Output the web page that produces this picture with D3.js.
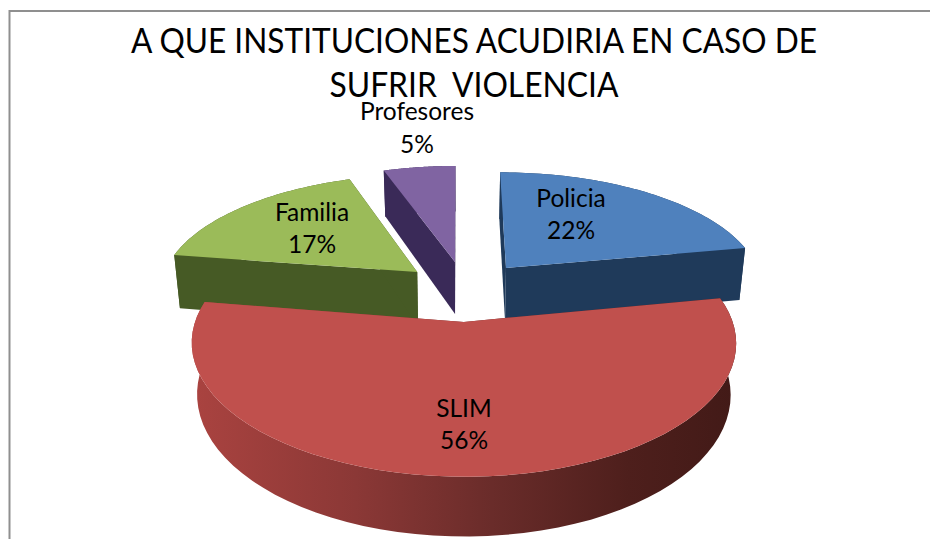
<!DOCTYPE html>
<html><head><meta charset="utf-8">
<script src="https://cdn.jsdelivr.net/npm/d3@7"></script>
<style>html,body{margin:0;background:#fff}svg{display:block}text{font-family:Lato,"Open Sans",sans-serif;fill:#000;white-space:pre}</style>
</head><body><svg id="c" width="930" height="539"></svg>
<script>
const categories = ["Policia","SLIM","Familia","Profesores"];
const values = [22,55.5,17.2,5.3];
const titleLines = ["A QUE INSTITUCIONES ACUDIRIA EN CASO DE","SUFRIR  VIOLENCIA"];

const W=930,H=539,cx=459,R=278,horizon=-500,ground=850,f=1695,Y0=125;
const offsets=[[52,56],[5,-67],[-46,46],[-4.5,71]];
const ryScale=[.96,1,.97,.98];
const depths=[59,52,60,58];
const topCol=["#4f81bd","#c0504d","#9bbb59","#8064a2"];
const wallCol=["#1f3a5a","url(#redWall)","#465a25","#3a2a58"];
const labelPos=[[571,207,239],[464,417,449],[312,221,253],[417,120,153]];
const titleLen=[686,289];

const svg=d3.select("#c");
const defs=svg.append("defs");
const g=defs.append("linearGradient").attr("id","redWall").attr("gradientUnits","userSpaceOnUse")
  .attr("x1",192).attr("x2",737).attr("y1",0).attr("y2",0);
[[0,"#aa4340"],[.3,"#8b3836"],[.55,"#6a2c2a"],[.8,"#4e1f1c"],[1,"#421a17"]].forEach(d=>g.append("stop").attr("offset",d[0]).attr("stop-color",d[1]));

svg.append("path").attr("d",d3.line()([[9.5,545],[9.5,11],[935,11]])).attr("fill","none").attr("stroke","#8f8f8f").attr("stroke-width",2);

const project=(a,r,off,z,i)=>{
  const X=r*Math.sin(a)+off[0],Y=r*Math.cos(a)*ryScale[i]+off[1]+Y0;
  const s=1/(1+Y/f);
  return [cx+X*s*(1-0.02*z),horizon+(ground+depths[i]*z)*s];
};
const line=d3.line();
const arcs=d3.pie().sort(null).startAngle(0).endAngle(2*Math.PI)(values);
const angles=(a0,a1)=>d3.range(0,61).map(i=>a0+(a1-a0)*i/60);

const order=[3,2,0,1];
order.forEach(i=>{
  const d=arcs[i],o=offsets[i],p=svg.append("g");
  const as=angles(d.startAngle,d.endAngle);
  const apex0=project(0,0,o,0,i),apex1=project(0,0,o,1,i);
  const rim0=as.map(a=>project(a,R,o,0,i)),rim1=as.map(a=>project(a,R,o,1,i));
  p.append("path").attr("d",line(rim0.concat(rim1.slice().reverse()))+"Z").attr("fill",wallCol[i]);
  [rim0[0],rim0[60]].forEach((q,k)=>{
    const q1=k?rim1[60]:rim1[0];
    p.append("path").attr("d",line([apex0,q,q1,apex1])+"Z").attr("fill",wallCol[i]);
  });
  p.append("path").attr("d",line([apex0].concat(rim0))+"Z").attr("fill",topCol[i]);
});

titleLines.forEach((t,i)=>svg.append("text").attr("x",474).attr("y",[52.5,97][i]).attr("text-anchor","middle").attr("font-size",34)
  .attr("textLength",titleLen[i]).attr("lengthAdjust","spacingAndGlyphs").text(t));
categories.forEach((c,i)=>{
  const l=labelPos[i];
  svg.append("text").attr("x",l[0]).attr("y",l[1]).attr("text-anchor","middle").attr("font-size",24.5).text(c);
  svg.append("text").attr("x",l[0]).attr("y",l[2]).attr("text-anchor","middle").attr("font-size",24.5).text(Math.round(values[i])+"%");
});
</script></body></html>
